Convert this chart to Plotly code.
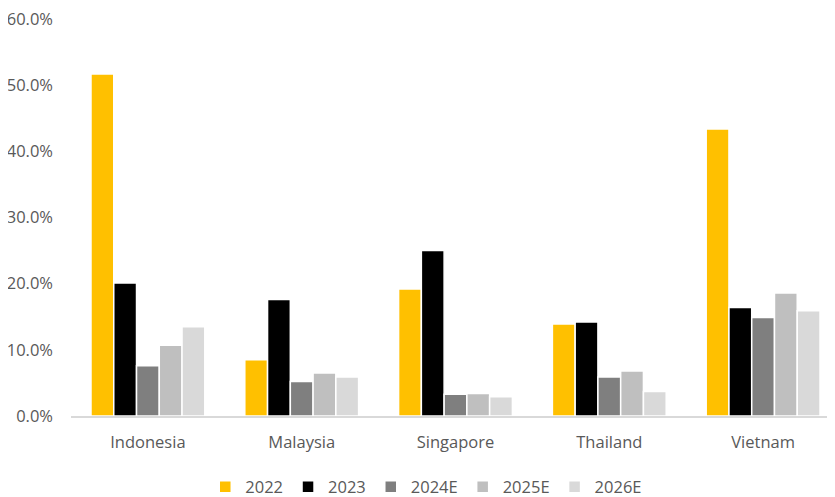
import plotly.graph_objects as go

countries = ["Indonesia", "Malaysia", "Singapore", "Thailand", "Vietnam"]
series_names = ["2022", "2023", "2024E", "2025E", "2026E"]
v2022 = [51.7, 8.5, 19.2, 13.9, 43.4]
v2023 = [20.1, 17.6, 25.0, 14.2, 16.4]
v2024 = [7.6, 5.2, 3.3, 5.9, 14.9]
v2025 = [10.7, 6.5, 3.4, 6.8, 18.6]
v2026 = [13.5, 5.9, 2.9, 3.7, 15.9]
tick_vals = [0, 0.1, 0.2, 0.3, 0.4, 0.5, 0.6]
tick_text = ["0.0%", "10.0%", "20.0%", "30.0%", "40.0%", "50.0%", "60.0%"]
colors = ["#FFC000", "#000000", "#7F7F7F", "#BFBFBF", "#D9D9D9"]

fig = go.Figure()
for name, vals, c in zip(series_names, [v2022, v2023, v2024, v2025, v2026], colors):
    fig.add_trace(go.Bar(
        x=countries, y=[v / 100 for v in vals], name=name,
        marker=dict(color=c, line=dict(color="white", width=1.5)),
    ))

font_family = "Open Sans, Noto Sans, sans-serif"
fig.update_layout(
    width=835, height=497,
    margin=dict(l=63, r=3, t=11, b=89, autoexpand=False),
    paper_bgcolor="white", plot_bgcolor="white",
    barmode="group", bargap=0.26, bargroupgap=0.0,
    font=dict(family=font_family, size=16.5, color="#595959"),
    showlegend=True,
    legend=dict(orientation="h", x=0.462, xanchor="center", y=-0.179, yanchor="middle",
                font=dict(size=16.5, color="#595959"), traceorder="normal",
                itemwidth=30, tracegroupgap=0),
    xaxis=dict(showline=True, linecolor="#D9D9D9", linewidth=1.5, ticks="",
               showgrid=False, ticklabelstandoff=10, tickfont=dict(size=16.5, color="#595959")),
    yaxis=dict(range=[0, 0.6001], tickmode="array", tickvals=tick_vals, ticktext=tick_text,
               showgrid=False, zeroline=False, showline=False, ticks="", ticklabelstandoff=17,
               ticklabeloverflow="allow",
               tickfont=dict(size=16.5, color="#595959")),
)
fig.write_html("out.html")
